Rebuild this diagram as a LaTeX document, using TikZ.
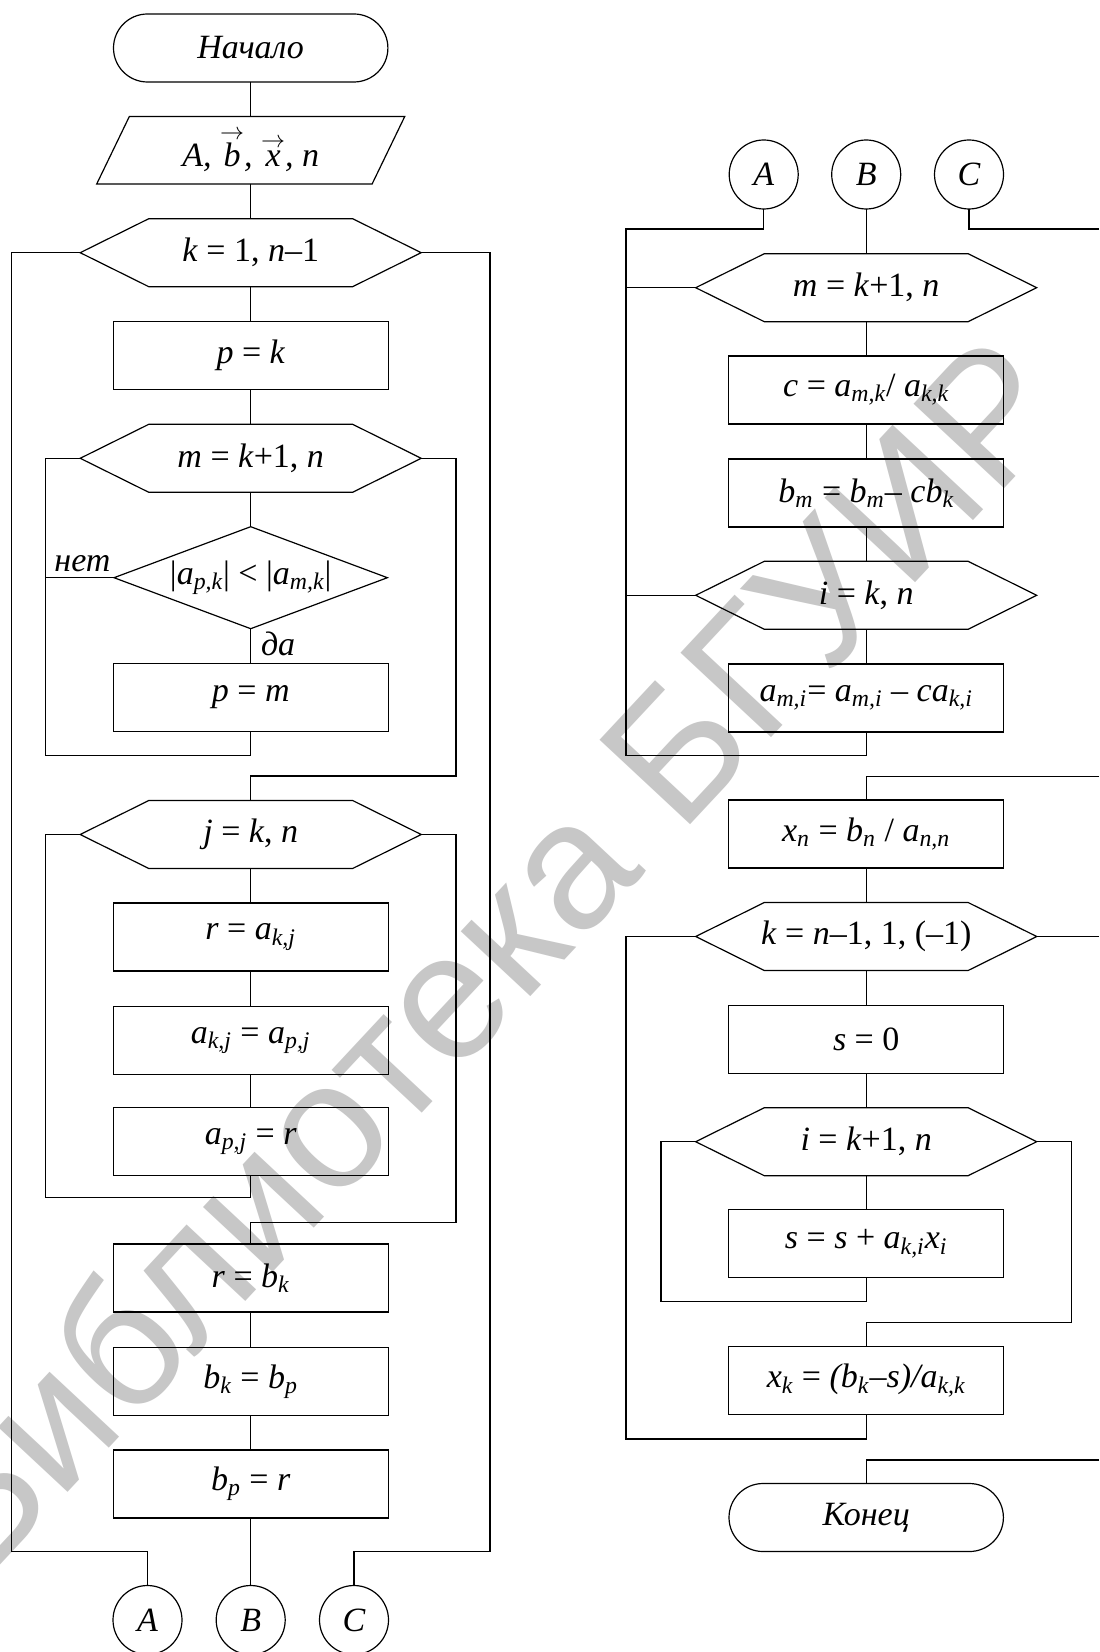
\documentclass[tikz,border=0pt]{standalone}
\usepackage{fontspec}
\setmainfont{Liberation Serif}
\newfontfamily\wmfont{Liberation Sans}
\newcommand\Up[1]{\textup{#1}}
\newcommand\Sb[1]{\textsubscript{#1}}
\newcommand\Vc[1]{\ensuremath{\stackrel{\rightarrow}{\mbox{#1}}}}
\tikzset{
  base/.style={font=\fontsize{17}{20}\selectfont\itshape, inner sep=0pt, outer sep=0pt},
  term/.style={base, draw, rectangle, rounded corners=17pt, minimum width=137.2pt, minimum height=34pt},
  proc/.style={base, draw, rectangle, minimum width=137.5pt, minimum height=34pt},
  hexa/.style={base, rectangle, minimum width=170.5pt, minimum height=34pt},
  deci/.style={base, rectangle, minimum width=136.7pt, minimum height=51pt},
  inout/.style={base, rectangle, minimum width=154pt, minimum height=33.7pt},
  conn/.style={base, draw, circle, minimum size=34.5pt},
  lbl/.style={base},
  wmark/.style={font=\wmfont\fontsize{90}{94}\selectfont, text=black!22, rotate=47, inner sep=0pt}
}
\begin{document}
\begin{tikzpicture}[x=0.5pt, y=-0.5pt, line width=0.6pt]
\useasboundingbox (0,0) rectangle (1099,1652);
\fill[white] (0,0) rectangle (1099,1652);
\node[wmark] (wm) at (480,955) {Библиотека БГУИР};

% ---------- left column ----------
\node[term]  (start) at (250.7,48)     {Начало};
\node[inout] (inp)   at (250.7,150.3)  {A, \Vc{b}, \Vc{x}, n};
\node[hexa]  (hk)    at (250.7,252.7)  {k\Up{ = 1, }n\Up{--1}};
\node[proc]  (p1)    at (250.7,355.5)  {p\Up{ = }k};
\node[hexa]  (hm)    at (250.7,458.3)  {m\Up{ = }k\Up{+1, }n};
\node[deci]  (dc)    at (250.7,577.7)  {\Up{|}a\Sb{p,k}\Up{|} \Up{<} \Up{|}a\Sb{m,k}\Up{|}};
\node[proc]  (p2)    at (250.7,697.5)  {p\Up{ = }m};
\node[hexa]  (hj)    at (250.7,834.5)  {j\Up{ = }k\Up{, }n};
\node[proc]  (r1)    at (250.7,937)    {r\Up{ = }a\Sb{k,j}};
\node[proc]  (r2)    at (250.7,1040.5) {a\Sb{k,j}\Up{ = }a\Sb{p,j}};
\node[proc]  (r3)    at (250.7,1141.7) {a\Sb{p,j}\Up{ = }r};
\node[proc]  (r4)    at (250.7,1278)   {r\Up{ = }b\Sb{k}};
\node[proc]  (r5)    at (250.7,1381.5) {b\Sb{k}\Up{ = }b\Sb{p}};
\node[proc]  (r6)    at (250.7,1484)   {b\Sb{p}\Up{ = }r};
\node[conn]  (cA1)   at (147.5,1620)   {A};
\node[conn]  (cB1)   at (250.7,1620)   {B};
\node[conn]  (cC1)   at (354,1620)     {C};
\node[lbl, anchor=base] (no) at (82.5,571.7) {нет};
\node[lbl, anchor=base west] (yes) at (261,655) {да};

% ---------- right column ----------
\node[conn]  (cA2)   at (763.7,174.5)  {A};
\node[conn]  (cB2)   at (866.2,174.5)  {B};
\node[conn]  (cC2)   at (969,174.5)    {C};
\node[hexa]  (hm2)   at (866.2,287.7)  {m\Up{ = }k\Up{+1, }n};
\node[proc]  (q1)    at (866.2,390)    {c\Up{ = }a\Sb{m,k}\Up{/ }a\Sb{k,k}};
\node[proc]  (q2)    at (866.2,493)    {b\Sb{m}\Up{ = }b\Sb{m}\Up{-- }cb\Sb{k}};
\node[hexa]  (hi)    at (866.2,595.3)  {i\Up{ = }k\Up{, }n};
\node[proc]  (q3)    at (866.2,698)    {a\Sb{m,i}\Up{= }a\Sb{m,i}\Up{ -- }ca\Sb{k,i}};
\node[proc]  (q4)    at (866.2,834)    {x\Sb{n}\Up{ = }b\Sb{n}\Up{ / }a\Sb{n,n}};
\node[hexa]  (hk2)   at (866.2,936.5)  {k\Up{ = }n\Up{--1, 1, (--1)}};
\node[proc]  (q5)    at (866.2,1039.8) {s\Up{ = 0}};
\node[hexa]  (hi2)   at (866.2,1141.7) {i\Up{ = }k\Up{+1, }n};
\node[proc]  (q6)    at (866.2,1243.7) {s\Up{ = }s\Up{ + }a\Sb{k,i}x\Sb{i}};
\node[proc]  (q7)    at (866.2,1380.5) {x\Sb{k}\Up{ = }(b\Sb{k}--s)/a\Sb{k,k}};
\node[term]  (fin)   at (866.2,1517.5) {Конец};

% ---------- shapes drawn around invisible nodes ----------
\foreach \h in {hk,hm,hj,hm2,hi,hk2,hi2}{
  \draw (\h.west) -- ([xshift=34.3pt]\h.north west) -- ([xshift=-34.3pt]\h.north east)
        -- (\h.east) -- ([xshift=-34.3pt]\h.south east) -- ([xshift=34.3pt]\h.south west) -- cycle;
}
\draw (dc.north) -- (dc.east) -- (dc.south) -- (dc.west) -- cycle;
\draw ([xshift=16.3pt]inp.north west) -- (inp.north east) -- ([xshift=-16.3pt]inp.south east) -- (inp.south west) -- cycle;

% ---------- coordinates ----------
\coordinate (oBL) at (11.7,1551.7);
\coordinate (oBR) at (490,1551.7);
\coordinate (mBL) at (45.5,755.3);
\coordinate (mR)  at (456,776);
\coordinate (jBL) at (45.5,1197.7);
\coordinate (jR)  at (456,1222.7);
\coordinate (aR)  at (626,229);
\coordinate (mlB) at (626,755.7);
\coordinate (cR)  at (1099,229);
\coordinate (r1R) at (1099,776.7);
\coordinate (r2R) at (1099,936.5);
\coordinate (kB)  at (626,1438.9);
\coordinate (iB)  at (661,1301.5);
\coordinate (iR)  at (1071.5,1322.5);
\coordinate (r3R) at (1099,1459.9);

% ---------- left connectors ----------
\draw (start.south) -- (inp.north);
\draw (inp.south) -- (hk.north);
\draw (hk.south) -- (p1.north);
\draw (p1.south) -- (hm.north);
\draw (hm.south) -- (dc.north);
\draw (dc.south) -- (p2.north);
\draw (dc.west) -- (dc.west -| mBL);
\draw (hm.west) -| (mBL) -| (p2.south);
\draw (hm.east) -| (mR) -| (hj.north);
\draw (hj.south) -- (r1.north);
\draw (r1.south) -- (r2.north);
\draw (r2.south) -- (r3.north);
\draw (r3.south) |- (jBL) |- (hj.west);
\draw (hj.east) -| (jR) -| (r4.north);
\draw (r4.south) -- (r5.north);
\draw (r5.south) -- (r6.north);
\draw (r6.south) -- (cB1.north);
\draw (cA1.north) |- (oBL) |- (hk.west);
\draw (cC1.north) |- (oBR) |- (hk.east);

% ---------- right connectors ----------
\draw (cA2.south) |- (aR) -- (mlB) -| (q3.south);
\draw (hm2.west) -- (hm2.west -| aR);
\draw (hi.west) -- (hi.west -| aR);
\draw (cB2.south) -- (hm2.north);
\draw (cC2.south) |- (cR);
\draw (hm2.south) -- (q1.north);
\draw (q1.south) -- (q2.north);
\draw (q2.south) -- (hi.north);
\draw (hi.south) -- (q3.north);
\draw (r1R) -| (q4.north);
\draw (q4.south) -- (hk2.north);
\draw (hk2.east) -- (r2R);
\draw (hk2.west) -| (kB) -| (q7.south);
\draw (hk2.south) -- (q5.north);
\draw (q5.south) -- (hi2.north);
\draw (hi2.south) -- (q6.north);
\draw (q6.south) |- (iB) |- (hi2.west);
\draw (hi2.east) -| (iR) -| (q7.north);
\draw (r3R) -| (fin.north);
\end{tikzpicture}
\end{document}
